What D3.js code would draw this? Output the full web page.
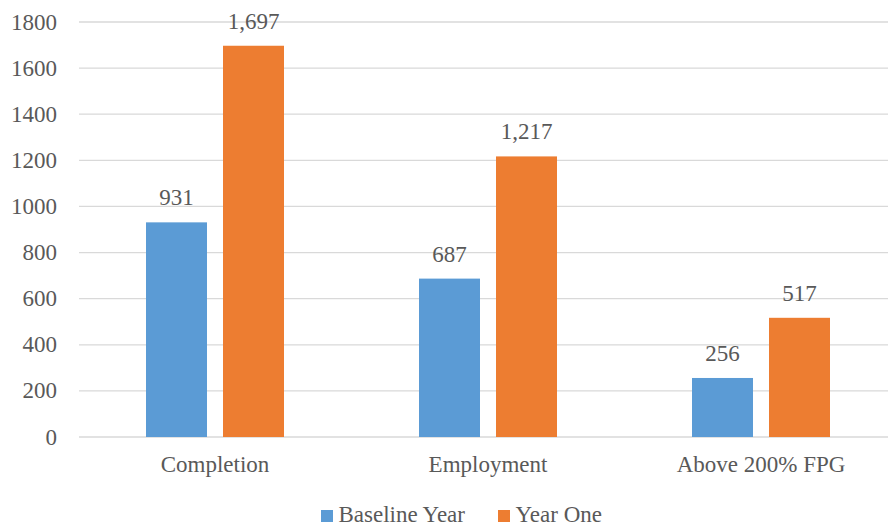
<!DOCTYPE html>
<html>
<head>
<meta charset="utf-8">
<script src="https://cdn.jsdelivr.net/npm/d3@7"></script>
<style>
  body { margin: 0; background: #fff; }
</style>
</head>
<body>
<div class="svg"></div>
<script>
const width = 888
const height = 527

// Data
const categories = ['Completion', 'Employment', 'Above 200% FPG']
const seriesNames = ['Baseline Year', 'Year One']
const baseline = [931, 687, 256]
const yearOne = [1697, 1217, 517]
const yTicks = [0, 200, 400, 600, 800, 1000, 1200, 1400, 1600, 1800]
const colors = ['#5B9BD5', '#ED7D31']

const rows = categories.map((c, i) => ({ cat: c, values: [baseline[i], yearOne[i]] }))

const font = "'Liberation Serif', 'Times New Roman', serif"
const textColor = '#595959'
const fontSize = 23

const svg = d3
  .select('.svg')
  .append('svg')
  .attr('width', width)
  .attr('height', height)
  .style('font-family', font)

const plotLeft = 79
const plotRight = 898
const plotTop = 22
const plotBottom = 437

const xScale = d3.scaleBand().domain(categories).range([plotLeft, plotRight])
const inner = d3
  .scaleBand()
  .domain([0, 1])
  .range([67, 67 + 138])
  .paddingInner(0.208)

const yScale = d3.scaleLinear().domain([0, 1800]).range([plotBottom, plotTop])

// Gridlines
svg
  .append('g')
  .selectAll('line')
  .data(yTicks)
  .enter()
  .append('line')
  .attr('x1', plotLeft)
  .attr('x2', plotRight)
  .attr('y1', d => yScale(d))
  .attr('y2', d => yScale(d))
  .attr('stroke', '#D9D9D9')
  .attr('stroke-width', 1.3)

// Y tick labels
svg
  .append('g')
  .selectAll('text')
  .data(yTicks)
  .enter()
  .append('text')
  .attr('x', 57)
  .attr('y', d => yScale(d) + 7.5)
  .attr('text-anchor', 'end')
  .attr('font-size', fontSize)
  .attr('fill', textColor)
  .text(d => d)

// Bars
const groups = svg
  .selectAll('.grp')
  .data(rows)
  .enter()
  .append('g')
  .attr('class', 'grp')
  .attr('transform', d => 'translate(' + xScale(d.cat) + ',0)')

groups
  .selectAll('rect')
  .data(d => d.values)
  .enter()
  .append('rect')
  .attr('x', (d, i) => inner(i))
  .attr('width', inner.bandwidth())
  .attr('y', d => yScale(d))
  .attr('height', d => plotBottom - yScale(d))
  .attr('fill', (d, i) => colors[i])

// Data labels
groups
  .selectAll('.lbl')
  .data(d => d.values)
  .enter()
  .append('text')
  .attr('class', 'lbl')
  .attr('x', (d, i) => inner(i) + inner.bandwidth() / 2)
  .attr('y', d => yScale(d) - 17)
  .attr('text-anchor', 'middle')
  .attr('font-size', fontSize)
  .attr('fill', textColor)
  .text(d => d3.format(',')(d))

// Category labels
svg
  .append('g')
  .selectAll('text')
  .data(categories)
  .enter()
  .append('text')
  .attr('x', d => xScale(d) + 67 + 69)
  .attr('y', 472)
  .attr('text-anchor', 'middle')
  .attr('font-size', fontSize)
  .attr('fill', textColor)
  .text(d => d)

// Legend
const legendX = [321, 498]
const legend = svg.append('g')
legend
  .selectAll('rect')
  .data(seriesNames)
  .enter()
  .append('rect')
  .attr('x', (d, i) => legendX[i])
  .attr('y', 510)
  .attr('width', 12)
  .attr('height', 12)
  .attr('fill', (d, i) => colors[i])

legend
  .selectAll('text')
  .data(seriesNames)
  .enter()
  .append('text')
  .attr('x', (d, i) => legendX[i] + 17.5)
  .attr('y', 522)
  .attr('font-size', fontSize)
  .attr('fill', textColor)
  .text(d => d)
</script>
</body>
</html>
